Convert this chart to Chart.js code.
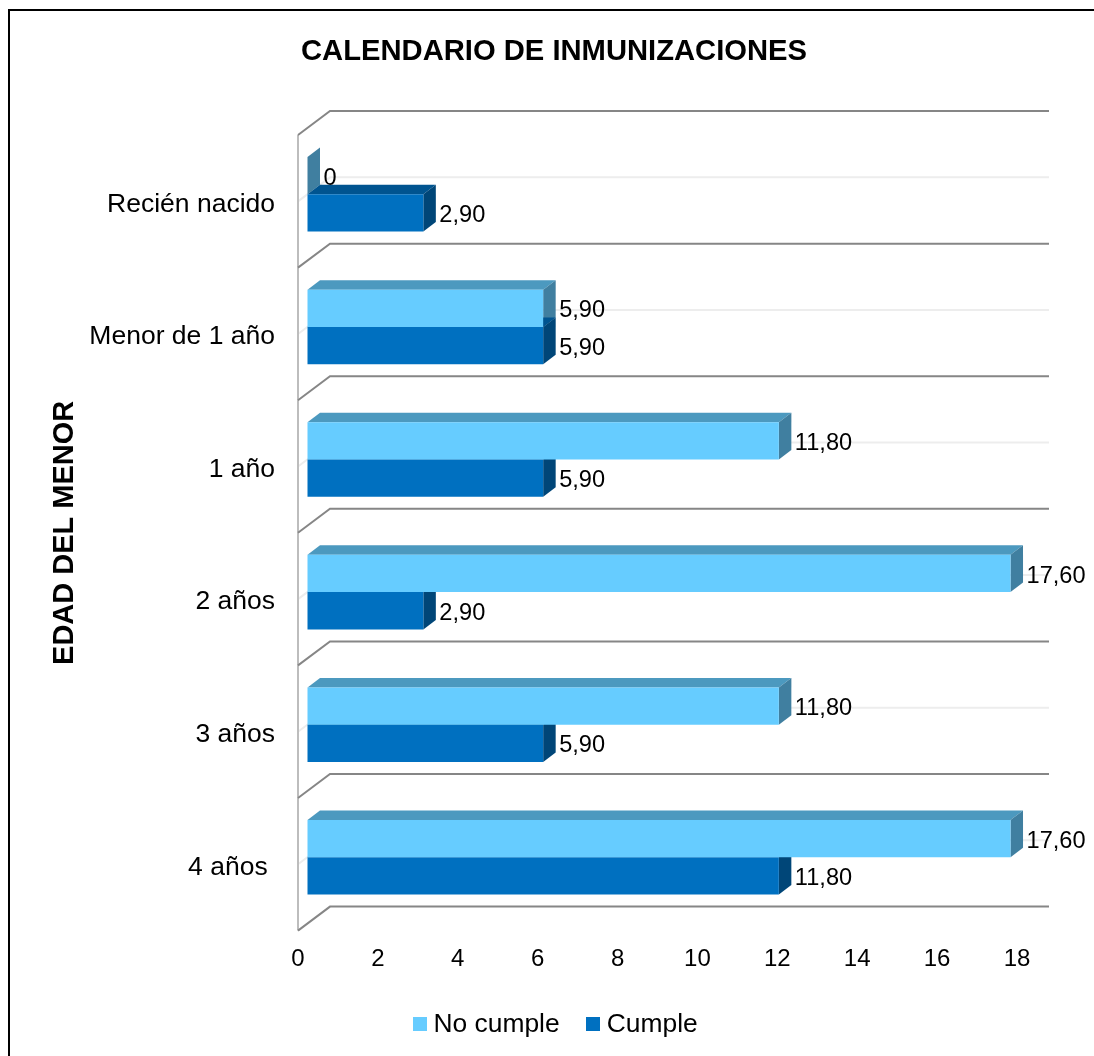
<!DOCTYPE html>
<html>
<head>
<meta charset="utf-8">
<style>html,body{margin:0;padding:0;background:#fff}canvas{display:block}</style>
<script src="https://cdn.jsdelivr.net/npm/chart.js@4"></script>
</head>
<body>
<canvas id="c" width="1094" height="1056"></canvas>
<script>
const categories = ['Recién nacido', 'Menor de 1 año', '1 año', '2 años', '3 años', '4 años '];
const noCumple = [0, 5.9, 11.8, 17.6, 11.8, 17.6];
const cumple = [2.9, 5.9, 5.9, 2.9, 5.9, 11.8];
const xTicks = [0, 2, 4, 6, 8, 10, 12, 14, 16, 18];
const seriesColors = ['#66CCFF', '#0070C0'];

const FONT = '"Liberation Sans", Arial, sans-serif';
const shiftX = 9.5, shiftY = -7;       // bars sit inside the floor depth
const barDX = 12.5, barDY = -9.5;      // bar depth
const wallDX = 32, wallDY = -24;       // wall depth

function quad(ctx, pts, fill) {
  ctx.fillStyle = fill;
  ctx.beginPath();
  pts.forEach((p, i) => i ? ctx.lineTo(p[0], p[1]) : ctx.moveTo(p[0], p[1]));
  ctx.closePath();
  ctx.fill();
}
function swatch(color) {
  const cv = document.createElement('canvas');
  cv.width = 14; cv.height = 14;
  const g = cv.getContext('2d');
  g.fillStyle = color;
  g.fillRect(0, 0, 14, 14);
  return cv;
}
const faces = [
  { top: '#4C99BF', side: '#407FA0' },
  { top: '#005490', side: '#004678' }
];

const frame3d = {
  id: 'frame3d',
  afterLayout(chart) {
    chart.legend.left += 4.5;
    chart.legend.right += 4.5;
  },
  beforeDraw(chart) {
    const { ctx, chartArea: a, scales: { y } } = chart;
    const w = a.right - a.left;
    ctx.save();
    // outer frame: only top and left edges are inside the picture
    ctx.strokeStyle = '#000'; ctx.lineWidth = 2;
    ctx.beginPath();
    ctx.moveTo(9, 1056); ctx.lineTo(9, 10); ctx.lineTo(1094, 10);
    ctx.stroke();
    // centre lines
    ctx.strokeStyle = '#EDEDED'; ctx.lineWidth = 2;
    categories.forEach((c, i) => {
      const p = y.getPixelForTick(i);
      ctx.beginPath();
      ctx.moveTo(a.left, p);
      ctx.lineTo(a.left + wallDX, p + wallDY);
      ctx.lineTo(a.left + wallDX + w, p + wallDY);
      ctx.stroke();
    });
    // left wall
    ctx.strokeStyle = '#BDBDBD'; ctx.lineWidth = 2;
    ctx.beginPath(); ctx.moveTo(a.left, a.top); ctx.lineTo(a.left, a.bottom); ctx.stroke();
    // boundaries
    ctx.strokeStyle = '#868686'; ctx.lineWidth = 2;
    const step = (a.bottom - a.top) / categories.length;
    for (let i = 0; i <= categories.length; i++) {
      const p = a.top + i * step;
      ctx.beginPath();
      ctx.moveTo(a.left, p);
      ctx.lineTo(a.left + wallDX, p + wallDY);
      ctx.lineTo(a.left + wallDX + w, p + wallDY);
      ctx.stroke();
    }
    ctx.restore();
  },
  beforeDatasetsDraw(chart) {
    const { ctx } = chart;
    ctx.save();
    ctx.translate(shiftX, shiftY);
    chart.data.datasets.forEach((ds, d) => {
      chart.getDatasetMeta(d).data.forEach(el => {
        const p = el.getProps(['x', 'y', 'base', 'height'], true);
        const t = p.y - p.height / 2, b = p.y + p.height / 2;
        if (p.x > p.base) {
          quad(ctx, [[p.base, t], [p.base + barDX, t + barDY], [p.x + barDX, t + barDY], [p.x, t]], faces[d].top);
        }
        quad(ctx, [[p.x, t], [p.x + barDX, t + barDY], [p.x + barDX, b + barDY], [p.x, b]], faces[d].side);
      });
    });
  },
  afterDatasetsDraw(chart) {
    const { ctx } = chart;
    ctx.restore();
    ctx.save();
    ctx.fillStyle = '#000';
    ctx.font = '23.6px ' + FONT;
    ctx.textAlign = 'left';
    ctx.textBaseline = 'middle';
    chart.data.datasets.forEach((ds, d) => {
      chart.getDatasetMeta(d).data.forEach((el, i) => {
        const v = ds.data[i];
        const s = v === 0 ? '0' : v.toFixed(2).replace('.', ',');
        ctx.fillText(s, el.x + shiftX + barDX + 3.5, el.y + shiftY + 2.5);
      });
    });
    ctx.restore();
  }
};

new Chart(document.getElementById('c'), {
  type: 'bar',
  plugins: [frame3d],
  data: {
    labels: categories,
    datasets: [
      { label: 'No cumple', data: noCumple, backgroundColor: seriesColors[0], clip: false },
      { label: 'Cumple', data: cumple, backgroundColor: seriesColors[1], clip: false }
    ]
  },
  options: {
    indexAxis: 'y',
    responsive: false,
    animation: false,
    devicePixelRatio: 1,
    categoryPercentage: 0.562,
    barPercentage: 1,
    layout: { padding: { left: 14, right: 0, top: 0, bottom: 8.5 } },
    plugins: {
      tooltip: { enabled: false },
      title: {
        display: true,
        text: 'CALENDARIO DE INMUNIZACIONES',
        color: '#000',
        font: { family: FONT, size: 29.2, weight: 'bold', lineHeight: 1.2 },
        padding: { top: 34.5, bottom: 65.5 }
      },
      legend: {
        position: 'bottom',
        labels: {
          color: '#000',
          usePointStyle: true,
          pointStyleWidth: 1,
          boxHeight: 14,
          padding: 33,
          font: { family: FONT, size: 26.4 },
          generateLabels(chart) {
            return chart.data.datasets.map((ds, i) => ({
              text: ds.label,
              fontColor: '#000',
              fillStyle: seriesColors[i],
              strokeStyle: seriesColors[i],
              lineWidth: 0,
              pointStyle: swatch(seriesColors[i]),
              datasetIndex: i
            }));
          }
        }
      }
    },
    scales: {
      x: {
        min: 0,
        max: 18,
        afterBuildTicks(s) { s.ticks = xTicks.map(v => ({ value: v })); },
        afterFit(s) { s.paddingRight = 77; s.height = 47.5; },
        grid: { display: false, drawTicks: false },
        border: { display: false },
        ticks: { color: '#000', padding: 14, maxRotation: 0, font: { family: FONT, size: 24 } }
      },
      y: {
        afterFit(s) { s.width = 284; },
        afterUpdate(s) {
          const draw = s.drawLabels;
          s.drawLabels = function (area) {
            s.ctx.save();
            s.ctx.translate(0, 1.5);
            draw.call(s, area);
            s.ctx.restore();
          };
        },
        grid: { display: false, drawTicks: false },
        border: { display: false },
        ticks: { color: '#000', padding: 23, font: { family: FONT, size: 26.5 } },
        title: {
          display: true,
          text: 'EDAD DEL MENOR',
          color: '#000',
          font: { family: FONT, size: 29, weight: 'bold' },
          padding: { top: 34, bottom: 0 }
        }
      }
    }
  }
});
</script>
</body>
</html>
